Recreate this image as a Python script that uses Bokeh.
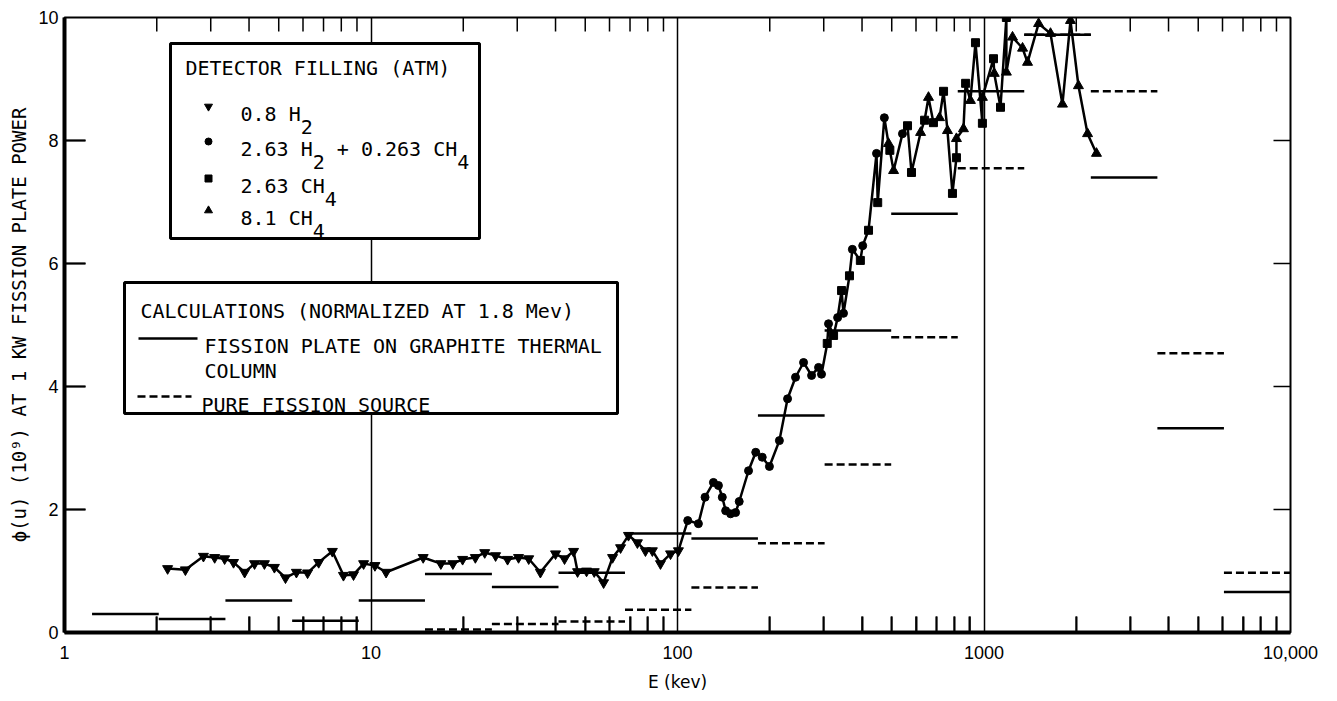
import numpy as np
from bokeh.plotting import figure
from bokeh.models import FixedTicker, BoxAnnotation, Label, Range1d
from bokeh.embed import file_html
from bokeh.resources import INLINE

# ---- calculated group fluxes (keV group boundaries, flux per group) ----
BIN_EDGES = [1.23, 2.03, 3.35, 5.53, 9.12, 15.0, 24.8, 40.9, 67.4, 111,
             183, 302, 498, 821, 1353, 2231, 3679, 6065, 10000]
GRAPHITE_COLUMN = [0.30, 0.22, 0.52, 0.19, 0.52, 0.95, 0.74, 0.97, 1.61,
                   1.53, 3.53, 4.91, 6.81, 8.80, 9.72, 7.40, 3.32, 0.66]
PURE_FISSION = [0.0, 0.0, 0.0, 0.0, 0.0, 0.05, 0.14, 0.18, 0.37,
                0.73, 1.45, 2.73, 4.80, 7.55, 9.72, 8.80, 4.54, 0.97]

# ---- measured spectra, one list pair per detector filling ----
H2_08_E = [2.17, 2.48, 2.84, 3.09, 3.33, 3.56, 3.87, 4.17, 4.49, 4.84,
           5.26, 5.71, 6.21, 6.75, 7.48, 8.13, 8.77, 9.46, 10.3, 11.2,
           14.8, 16.9, 18.5, 19.9, 21.9, 23.5, 25.5, 27.9, 30.3, 32.7,
           35.7, 40.0, 42.8, 45.8, 47.2, 50.5, 53.5, 57.4, 61.4, 65.2,
           69.2, 74.0, 78.6, 82.8, 88.0, 94.9, 100.7]
H2_08_PHI = [1.04, 1.02, 1.24, 1.22, 1.20, 1.14, 0.98, 1.12, 1.12, 1.06,
             0.89, 0.98, 0.97, 1.14, 1.32, 0.93, 0.94, 1.12, 1.09, 0.98,
             1.22, 1.12, 1.12, 1.19, 1.22, 1.30, 1.25, 1.19, 1.22, 1.20,
             0.98, 1.28, 1.20, 1.32, 0.99, 1.00, 0.99, 0.81, 1.22, 1.38,
             1.58, 1.46, 1.33, 1.33, 1.12, 1.28, 1.33]

MIX_E = [108, 117, 123, 131, 136, 140, 143.6, 149, 154.7, 159, 170.5, 180,
         189, 199.5, 215, 228.6, 242.7, 257.8, 273.8, 288.5, 295, 311, 333,
         348, 372, 402, 446, 473, 542]
MIX_PHI = [1.82, 1.77, 2.20, 2.44, 2.39, 2.20, 1.98, 1.93, 1.95, 2.13, 2.63,
           2.93, 2.85, 2.70, 3.12, 3.80, 4.15, 4.39, 4.18, 4.31, 4.20, 5.02,
           5.12, 5.19, 6.23, 6.29, 7.79, 8.37, 8.11]

CH4_263_E = [308, 323, 343, 364, 395, 420, 450, 493, 563, 580, 640, 684,
             738, 789, 813, 871, 938, 988, 1074, 1132, 1183]
CH4_263_PHI = [4.70, 4.83, 5.56, 5.80, 6.05, 6.54, 6.99, 7.84, 8.24, 7.48,
               8.33, 8.29, 8.80, 7.14, 7.72, 8.93, 9.59, 8.28, 9.33, 8.54,
               10.0]

CH4_81_E = [488, 507, 621, 659, 716, 760, 813, 857, 903, 988, 1080, 1183,
            1239, 1336, 1387, 1507, 1648, 1803, 1915, 2033, 2177, 2328]
CH4_81_PHI = [7.95, 7.51, 8.13, 8.70, 8.37, 8.16, 8.03, 8.19, 8.65, 8.70,
              9.09, 9.11, 9.68, 9.50, 9.27, 9.90, 9.74, 8.59, 9.95, 8.89,
              8.11, 7.79]

# ---- axes ----
X_MAJOR = [1, 10, 100, 1000, 10000]
X_LABELS = {1: "1", 10: "10", 100: "100", 1000: "1000", 10000: "10,000"}
X_MINOR = [m * d for d in (1, 10, 100, 1000) for m in range(2, 10)]
X_GRID = [10, 100, 1000]
Y_MAJOR = [0, 2, 4, 6, 8, 10]
Y_INNER = [2, 4, 6, 8]

X_TITLE = "E (kev)"
Y_TITLE = "\u03d5(u) (10\u2079) AT 1 KW FISSION PLATE POWER"

MONO = "DejaVu Sans Mono"
SANS = "Liberation Sans"

# frame placement in canvas pixels
FRAME_L, FRAME_R, FRAME_T, FRAME_B = 64, 1290, 17, 632
W, H = 1337, 701


def fx(px):
    """canvas x pixel -> energy (log axis)"""
    return 10 ** (4 * (px - FRAME_L) / (FRAME_R - FRAME_L))


def fy(py):
    """canvas y pixel -> flux"""
    return 10 * (FRAME_B - py) / (FRAME_B - FRAME_T)


p = figure(width=W, height=H, x_axis_type="log",
           x_range=Range1d(1, 10000), y_range=Range1d(0, 10),
           output_backend="svg", toolbar_location=None,
           min_border_left=FRAME_L, min_border_right=W - FRAME_R,
           min_border_top=FRAME_T, min_border_bottom=H - FRAME_B,
           background_fill_color="white", border_fill_color="white",
           outline_line_color="black", outline_line_width=2)

# bottom axis, minor ticks pointing into the frame
xa = p.xaxis[0]
xa.ticker = FixedTicker(ticks=X_MAJOR, minor_ticks=X_MINOR)
xa.major_label_overrides = X_LABELS
xa.major_tick_in = 0
xa.major_tick_out = 0
xa.minor_tick_in = 16
xa.minor_tick_out = 0
xa.minor_tick_line_color = "black"
xa.minor_tick_line_width = 2
xa.axis_line_width = 4
xa.major_label_standoff = 13
xa.major_label_text_font = SANS
xa.major_label_text_font_size = "18px"
xa.major_label_text_color = "black"
xa.axis_label = X_TITLE
xa.axis_label_text_font = "DejaVu Sans"
xa.axis_label_text_font_size = "17px"
xa.axis_label_text_font_style = "normal"
xa.axis_label_text_color = "black"
xa.axis_label_standoff = 10

# left axis, inner ticks drawn as minor ticks
ya = p.yaxis[0]
ya.ticker = FixedTicker(ticks=Y_MAJOR, minor_ticks=Y_INNER)
ya.major_tick_in = 0
ya.major_tick_out = 0
ya.minor_tick_in = 21
ya.minor_tick_out = 0
ya.minor_tick_line_color = "black"
ya.minor_tick_line_width = 2
ya.axis_line_width = 4
ya.major_label_standoff = 6
ya.major_label_text_font = SANS
ya.major_label_text_font_size = "18px"
ya.major_label_text_color = "black"
ya.axis_label = Y_TITLE
ya.axis_label_text_font = MONO
ya.axis_label_text_font_size = "19px"
ya.axis_label_text_font_style = "normal"
ya.axis_label_text_color = "black"
ya.axis_label_standoff = 5

# decade lines
p.xgrid.ticker = FixedTicker(ticks=X_GRID)
p.xgrid.grid_line_color = "black"
p.xgrid.grid_line_width = 1.5
p.ygrid.visible = False

# calculated spectra as horizontal group bars
p.segment(x0=BIN_EDGES[:-1], x1=BIN_EDGES[1:], y0=GRAPHITE_COLUMN,
          y1=GRAPHITE_COLUMN, line_color="black", line_width=2.5)
p.segment(x0=BIN_EDGES[:-1], x1=BIN_EDGES[1:], y0=PURE_FISSION,
          y1=PURE_FISSION, line_color="black", line_width=2.5,
          line_dash="8 4")

# measured points joined in order of energy
all_e = np.array(H2_08_E + MIX_E + CH4_263_E + CH4_81_E, dtype=float)
all_phi = np.array(H2_08_PHI + MIX_PHI + CH4_263_PHI + CH4_81_PHI)
order = np.argsort(all_e, kind="stable")
p.line(all_e[order], all_phi[order], line_color="black", line_width=2.5)

p.scatter(H2_08_E, H2_08_PHI, marker="inverted_triangle", size=10,
          color="black")
p.scatter(MIX_E, MIX_PHI, marker="circle", size=8, color="black")
p.scatter(CH4_263_E, CH4_263_PHI, marker="square", size=8, color="black")
p.scatter(CH4_81_E, CH4_81_PHI, marker="triangle", size=10, color="black")

# inward tick marks on all four edges of the frame
bottom_end = fy(FRAME_B - 16)
top_end = fy(FRAME_T + 14)
left_end = fx(FRAME_L + 21)
right_end = fx(FRAME_R - 17)
mx = [float(v) for v in X_MINOR]
iy = [float(v) for v in Y_INNER]
tx0 = mx + mx + [1.0] * len(iy) + [right_end] * len(iy)
tx1 = mx + mx + [left_end] * len(iy) + [10000.0] * len(iy)
ty0 = [0.0] * len(mx) + [10.0] * len(mx) + iy + iy
ty1 = [bottom_end] * len(mx) + [top_end] * len(mx) + iy + iy
p.segment(x0=tx0, x1=tx1, y0=ty0, y1=ty1, line_color="black",
          line_width=1.5)

# ---- key boxes ----
KEY_FONT = "20px"
CHAR_W = 0.602 * 20  # advance of the mono face at 20px
SUB_DROP = 13


def key_text(px, py, text):
    p.add_layout(Label(x=fx(px), y=fy(py), text=text, text_font=MONO,
                       text_font_size=KEY_FONT, text_color="black",
                       text_baseline="alphabetic", text_align="left",
                       level="overlay"))


def chem(px, py, parts):
    """parts: list of (text, is_subscript, leading character cells)"""
    x = px
    for text, sub, gap in parts:
        x += gap * CHAR_W
        key_text(x, py + (SUB_DROP if sub else 0), text)
        x += len(text) * CHAR_W


p.add_layout(BoxAnnotation(left=fx(170), right=fx(479), top=fy(43),
                           bottom=fy(238), fill_color="white", fill_alpha=1,
                           line_color="black", line_width=3, line_alpha=1))
p.add_layout(BoxAnnotation(left=fx(124), right=fx(617), top=fy(282),
                           bottom=fy(413), fill_color="white", fill_alpha=1,
                           line_color="black", line_width=3, line_alpha=1))

key_text(185, 67, "DETECTOR FILLING (ATM)")
rows = [113, 148, 185, 217]
marker_x = fx(208)
p.scatter([marker_x] * 4, [fy(r - 7) for r in rows],
          marker=["inverted_triangle", "circle", "square", "triangle"],
          size=[8, 7, 7, 8], color="black", level="overlay")
chem(240, rows[0], [("0.8 H", False, 0), ("2", True, 0)])
chem(240, rows[1], [("2.63 H", False, 0), ("2", True, 0),
                    ("+ 0.263 CH", False, 1), ("4", True, 0)])
chem(240, rows[2], [("2.63 CH", False, 0), ("4", True, 0)])
chem(240, rows[3], [("8.1 CH", False, 0), ("4", True, 0)])

key_text(140, 310, "CALCULATIONS (NORMALIZED AT 1.8 Mev)")
p.segment(x0=[fx(138)], x1=[fx(197)], y0=[fy(338)], y1=[fy(338)],
          line_color="black", line_width=2.5, level="overlay")
key_text(204, 345, "FISSION PLATE ON GRAPHITE THERMAL")
key_text(204, 370, "COLUMN")
p.segment(x0=[fx(137)], x1=[fx(191)], y0=[fy(396)], y1=[fy(396)],
          line_color="black", line_width=2.5, line_dash="8 4",
          level="overlay")
key_text(201, 404, "PURE FISSION SOURCE")

open("out.html", "w").write(file_html(p, INLINE))
